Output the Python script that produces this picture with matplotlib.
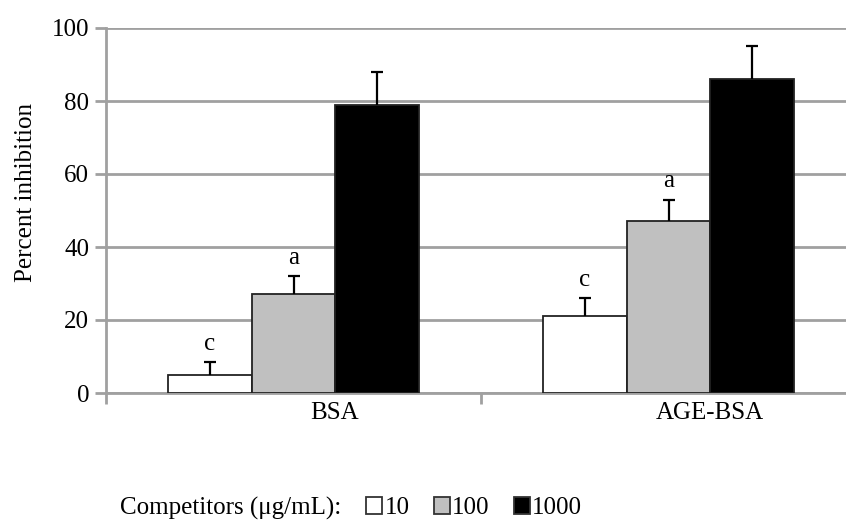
import numpy as np
import matplotlib.pyplot as plt
from matplotlib.patches import Patch

plt.rcParams['font.family'] = ['Liberation Serif', 'DejaVu Serif']

# inhibition data (mean, upper error) per competitor concentration
groups = ["BSA", "AGE-BSA"]
doses = ["10", "100", "1000"]
mean_10 = [5, 21]
mean_100 = [27, 47]
mean_1000 = [79, 86]
err_10 = [3.5, 5]
err_100 = [5, 6]
err_1000 = [9, 9]
letters_10 = ["c", "c"]
letters_100 = ["a", "a"]

colors = ["white", "#c0c0c0", "black"]
grid_gray = "#a0a0a0"
fs = 18

fig = plt.figure(figsize=(8.46, 5.2), dpi=100)
ax = fig.add_axes([106/846, 127/520, 750/846, 365/520])

x = np.arange(len(groups))
w = 0.223
means = [mean_10, mean_100, mean_1000]
errs = [err_10, err_100, err_1000]
for i, (m, e, c) in enumerate(zip(means, errs, colors)):
    xs = x + (i - 1) * w
    ax.bar(xs, m, width=w, color=c, edgecolor="#222222", linewidth=1.3, zorder=3)
    _, caps, _ = ax.errorbar(xs, m, yerr=[np.zeros(len(m)), e], fmt="none", ecolor="black",
                             elinewidth=1.6, capsize=4.6, capthick=1.6, zorder=4)
    caps[0].set_visible(False)  # only the upper cap

# significance letters above the error bars
for xs, m, e, lab in [(x - w, mean_10, err_10, letters_10), (x, mean_100, err_100, letters_100)]:
    for xi, mi, ei, li in zip(xs, m, e, lab):
        ax.text(xi, mi + ei + 5, li, ha="center", va="center", fontsize=fs)

ax.set_xlim(-0.5, 1.5)
ax.set_ylim(0, 100)
ax.set_yticks(np.arange(0, 101, 20))
ax.set_xticks([-0.5, 0.5, 1.5])
ax.set_xticklabels([])
for xi, g in zip(x, groups):
    ax.text(xi + 0.11, -5.5, g, ha="center", va="center", fontsize=fs)

ax.yaxis.grid(True, color=grid_gray, linewidth=2)
ax.set_axisbelow(True)
for s in ["top", "right"]:
    ax.spines[s].set_visible(False)
for s in ["left", "bottom"]:
    ax.spines[s].set_color(grid_gray)
    ax.spines[s].set_linewidth(2)
ax.tick_params(axis="both", colors=grid_gray, width=2, length=8, labelsize=fs,
               labelcolor="black")
ax.tick_params(axis="y", pad=4)
ax.set_ylabel("Percent inhibition", fontsize=fs)
ax.yaxis.set_label_coords(-0.092, 0.55)

# legend row at the bottom
fig.text(120/846, 1 - 508/520, "Competitors (\u03bcg/mL):", fontsize=fs, va="center", ha="left")
handles = [Patch(facecolor=c, edgecolor="#333333", linewidth=1.3) for c in colors]
fig.legend(handles, doses, ncol=3, loc="center left", bbox_to_anchor=(366/846, 1 - 508/520),
           frameon=False, fontsize=fs, handlelength=0.65, handleheight=0.65,
           handletextpad=0.1, columnspacing=0.95, borderaxespad=0, borderpad=0)

fig.savefig("out.png", dpi=100)
